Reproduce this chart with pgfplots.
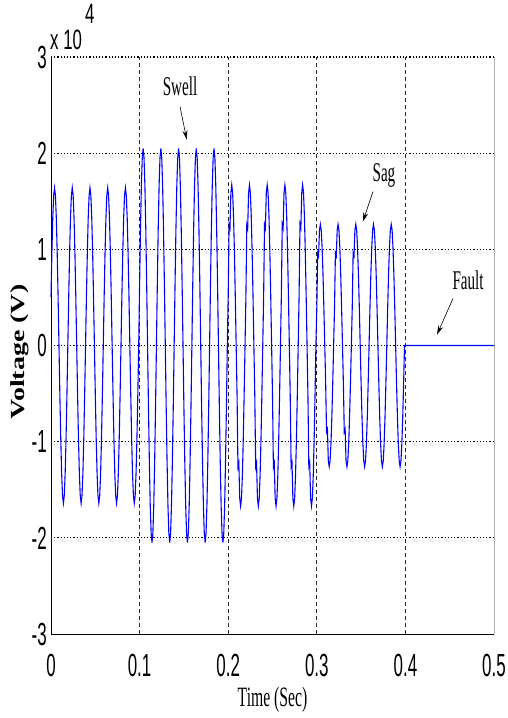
\documentclass[border=0pt]{standalone}
\usepackage{fontspec}
\setmainfont{Liberation Serif}
\newfontfamily\tickfont{Liberation Sans}[FakeStretch=0.53]
\newfontfamily\expfont{Liberation Sans}[FakeStretch=0.6]
\newfontfamily\lblfont{Liberation Serif}[FakeStretch=0.56]
\newfontfamily\ylblfont{Liberation Serif}[FakeStretch=1.4]
\usepackage{pgfplots}
\pgfplotsset{compat=1.18}
\usetikzlibrary{arrows.meta}
\begin{document}
\begin{tikzpicture}
\begin{axis}[
  set layers=standard,
  at={(0,0)}, anchor=south west,
  scale only axis, width=443bp, height=577bp,
  xmin=0, xmax=0.5, ymin=-30000, ymax=30000,
  xtick={0,0.1,0.2,0.3,0.4,0.5}, xticklabels={0,0.1,0.2,0.3,0.4,0.5},
  ytick={-30000,-20000,-10000,0,10000,20000,30000}, yticklabels={-3,-2,-1,0,1,2,3},
  scaled ticks=false,
  major tick length=0pt,
  axis line style={draw=none},
  clip=false,
  xticklabel style={font=\tickfont\fontsize{32bp}{32bp}\selectfont, anchor=north, inner sep=0pt, yshift=-20bp},
  yticklabel style={font=\tickfont\fontsize{32bp}{32bp}\selectfont, anchor=east, inner sep=0pt, xshift=-4bp},
]
\begin{pgfonlayer}{axis background}
\draw[black!85, line width=0.7bp, dash pattern=on 4bp off 3bp] (axis cs:0.1,-30000) -- (axis cs:0.1,30000);
\draw[black!85, line width=0.7bp, dash pattern=on 4bp off 3bp] (axis cs:0.2,-30000) -- (axis cs:0.2,30000);
\draw[black!85, line width=0.7bp, dash pattern=on 4bp off 3bp] (axis cs:0.3,-30000) -- (axis cs:0.3,30000);
\draw[black!85, line width=0.7bp, dash pattern=on 4bp off 3bp] (axis cs:0.4,-30000) -- (axis cs:0.4,30000);
\draw[black, line width=1.1bp, dash pattern=on 1.2bp off 2bp] (axis cs:0,-20000) -- (axis cs:0.5,-20000);
\draw[black, line width=1.1bp, dash pattern=on 1.2bp off 2bp] (axis cs:0,-10000) -- (axis cs:0.5,-10000);
\draw[black, line width=1.1bp, dash pattern=on 1.2bp off 2bp] (axis cs:0,0) -- (axis cs:0.5,0);
\draw[black, line width=1.1bp, dash pattern=on 1.2bp off 2bp] (axis cs:0,10000) -- (axis cs:0.5,10000);
\draw[black, line width=1.1bp, dash pattern=on 1.2bp off 2bp] (axis cs:0,20000) -- (axis cs:0.5,20000);
\draw[black, line width=1.5bp, dash pattern=on 1.2bp off 2bp] (axis cs:0,30000) -- (axis cs:0.5,30000);
\draw[black, line width=0.9bp] (axis cs:0,30000) -- (axis cs:0,-30000) -- (axis cs:0.5,-30000);
\draw[gray!60, line width=1bp] (axis cs:0.5,-30000) -- (axis cs:0.5,30000);
\end{pgfonlayer}

\addplot[blue, line width=1.1bp] coordinates {
(0.000,5068) (0.001,9640) (0.002,13268) (0.003,15598) (0.004,16400) (0.005,15598) (0.006,13268) (0.007,9640) (0.008,5068) (0.009,0)
(0.010,-5068) (0.011,-9640) (0.012,-13268) (0.013,-15598) (0.014,-16400) (0.015,-15598) (0.016,-13268) (0.017,-9640) (0.018,-5068) (0.019,0)
(0.020,5068) (0.021,9640) (0.022,13268) (0.023,15598) (0.024,16400) (0.025,15598) (0.026,13268) (0.027,9640) (0.028,5068) (0.029,0)
(0.030,-5068) (0.031,-9640) (0.032,-13268) (0.033,-15598) (0.034,-16400) (0.035,-15598) (0.036,-13268) (0.037,-9640) (0.038,-5068) (0.039,0)
(0.040,5068) (0.041,9640) (0.042,13268) (0.043,15598) (0.044,16400) (0.045,15598) (0.046,13268) (0.047,9640) (0.048,5068) (0.049,0)
(0.050,-5068) (0.051,-9640) (0.052,-13268) (0.053,-15598) (0.054,-16400) (0.055,-15598) (0.056,-13268) (0.057,-9640) (0.058,-5068) (0.059,0)
(0.060,5068) (0.061,9640) (0.062,13268) (0.063,15598) (0.064,16400) (0.065,15598) (0.066,13268) (0.067,9640) (0.068,5068) (0.069,0)
(0.070,-5068) (0.071,-9640) (0.072,-13268) (0.073,-15598) (0.074,-16400) (0.075,-15598) (0.076,-13268) (0.077,-9640) (0.078,-5068) (0.079,0)
(0.080,5068) (0.081,9640) (0.082,13268) (0.083,15598) (0.084,16400) (0.085,15598) (0.086,13268) (0.087,9640) (0.088,5068) (0.089,0)
(0.090,-5068) (0.091,-9640) (0.092,-13268) (0.093,-15598) (0.094,-16400) (0.095,-15598) (0.096,-13268) (0.097,-9640) (0.098,-5068) (0.099,0)
(0.100,6335) (0.101,12050) (0.102,16585) (0.103,19498) (0.104,20500) (0.105,19498) (0.106,16585) (0.107,12050) (0.108,6335) (0.109,0)
(0.110,-6335) (0.111,-12050) (0.112,-16585) (0.113,-19498) (0.114,-20500) (0.115,-19498) (0.116,-16585) (0.117,-12050) (0.118,-6335) (0.119,0)
(0.120,6335) (0.121,12050) (0.122,16585) (0.123,19498) (0.124,20500) (0.125,19498) (0.126,16585) (0.127,12050) (0.128,6335) (0.129,0)
(0.130,-6335) (0.131,-12050) (0.132,-16585) (0.133,-19498) (0.134,-20500) (0.135,-19498) (0.136,-16585) (0.137,-12050) (0.138,-6335) (0.139,0)
(0.140,6335) (0.141,12050) (0.142,16585) (0.143,19498) (0.144,20500) (0.145,19498) (0.146,16585) (0.147,12050) (0.148,6335) (0.149,0)
(0.150,-6335) (0.151,-12050) (0.152,-16585) (0.153,-19498) (0.154,-20500) (0.155,-19498) (0.156,-16585) (0.157,-12050) (0.158,-6335) (0.159,0)
(0.160,6335) (0.161,12050) (0.162,16585) (0.163,19498) (0.164,20500) (0.165,19498) (0.166,16585) (0.167,12050) (0.168,6335) (0.169,0)
(0.170,-6335) (0.171,-12050) (0.172,-16585) (0.173,-19498) (0.174,-20500) (0.175,-19498) (0.176,-16585) (0.177,-12050) (0.178,-6335) (0.179,0)
(0.180,6335) (0.181,12050) (0.182,16585) (0.183,19498) (0.184,20500) (0.185,19498) (0.186,16585) (0.187,12050) (0.188,6335) (0.189,0)
(0.190,-6335) (0.191,-12050) (0.192,-16585) (0.193,-19498) (0.194,-20500) (0.195,-19498) (0.196,-16585) (0.197,-12050) (0.198,-6335) (0.199,0)
(0.200,5160) (0.201,12600) (0.202,12200) (0.203,15883) (0.204,16700) (0.205,15883) (0.206,13510) (0.207,9816) (0.208,5160) (0.209,0)
(0.210,-5160) (0.211,-12600) (0.212,-12200) (0.213,-15883) (0.214,-16700) (0.215,-15883) (0.216,-13510) (0.217,-9816) (0.218,-5160) (0.219,0)
(0.220,5160) (0.221,12600) (0.222,12200) (0.223,15883) (0.224,16700) (0.225,15883) (0.226,13510) (0.227,9816) (0.228,5160) (0.229,0)
(0.230,-5160) (0.231,-12600) (0.232,-12200) (0.233,-15883) (0.234,-16700) (0.235,-15883) (0.236,-13510) (0.237,-9816) (0.238,-5160) (0.239,0)
(0.240,5160) (0.241,12600) (0.242,12200) (0.243,15883) (0.244,16700) (0.245,15883) (0.246,13510) (0.247,9816) (0.248,5160) (0.249,0)
(0.250,-5160) (0.251,-12600) (0.252,-12200) (0.253,-15883) (0.254,-16700) (0.255,-15883) (0.256,-13510) (0.257,-9816) (0.258,-5160) (0.259,0)
(0.260,5160) (0.261,12600) (0.262,12200) (0.263,15883) (0.264,16700) (0.265,15883) (0.266,13510) (0.267,9816) (0.268,5160) (0.269,0)
(0.270,-5160) (0.271,-12600) (0.272,-12200) (0.273,-15883) (0.274,-16700) (0.275,-15883) (0.276,-13510) (0.277,-9816) (0.278,-5160) (0.279,0)
(0.280,5160) (0.281,12600) (0.282,12200) (0.283,15883) (0.284,16700) (0.285,15883) (0.286,13510) (0.287,9816) (0.288,5160) (0.289,0)
(0.290,-5160) (0.291,-12600) (0.292,-12200) (0.293,-15883) (0.294,-16700) (0.295,-15883) (0.296,-13510) (0.297,-9816) (0.298,-5160) (0.299,0)
(0.300,3893) (0.301,9600) (0.302,9300) (0.303,11984) (0.304,12600) (0.305,11984) (0.306,10193) (0.307,7406) (0.308,3893) (0.309,0)
(0.310,-3893) (0.311,-9000) (0.312,-8700) (0.313,-11984) (0.314,-12600) (0.315,-11984) (0.316,-10193) (0.317,-7406) (0.318,-3893) (0.319,0)
(0.320,3893) (0.321,9600) (0.322,9300) (0.323,11984) (0.324,12600) (0.325,11984) (0.326,10193) (0.327,7406) (0.328,3893) (0.329,0)
(0.330,-3893) (0.331,-9000) (0.332,-8700) (0.333,-11984) (0.334,-12600) (0.335,-11984) (0.336,-10193) (0.337,-7406) (0.338,-3893) (0.339,0)
(0.340,3893) (0.341,9600) (0.342,9300) (0.343,11984) (0.344,12600) (0.345,11984) (0.346,10193) (0.347,7406) (0.348,3893) (0.349,0)
(0.350,-3893) (0.351,-7406) (0.352,-10193) (0.353,-11984) (0.354,-12600) (0.355,-11984) (0.356,-10193) (0.357,-7406) (0.358,-3893) (0.359,0)
(0.360,3893) (0.361,7406) (0.362,10193) (0.363,11984) (0.364,12600) (0.365,11984) (0.366,10193) (0.367,7406) (0.368,3893) (0.369,0)
(0.370,-3893) (0.371,-7406) (0.372,-10193) (0.373,-11984) (0.374,-12600) (0.375,-11984) (0.376,-10193) (0.377,-7406) (0.378,-3893) (0.379,0)
(0.380,3893) (0.381,7406) (0.382,10193) (0.383,11984) (0.384,12600) (0.385,11984) (0.386,10193) (0.387,7406) (0.388,3893) (0.389,0)
(0.390,-3893) (0.391,-7406) (0.392,-10193) (0.393,-11984) (0.394,-12600) (0.395,-11984) (0.396,-10193) (0.397,-7406) (0.398,-3893) (0.399,0)
(0.400,0) (0.500,0)
};

\node[font=\lblfont\fontsize{27bp}{27bp}\selectfont, inner sep=0pt] at (axis cs:0.1456,26930) {Swell};
\draw[-{Stealth[length=9bp,width=5bp]}, line width=0.6bp] (axis cs:0.1456,24850) -- (axis cs:0.1532,21420);
\node[font=\lblfont\fontsize{27bp}{27bp}\selectfont, inner sep=0pt] at (axis cs:0.3758,17680) {Sag};
\draw[-{Stealth[length=9bp,width=5bp]}, line width=0.6bp] (axis cs:0.3634,16010) -- (axis cs:0.3521,12890);
\node[font=\lblfont\fontsize{27bp}{27bp}\selectfont, inner sep=0pt] at (axis cs:0.4707,6760) {Fault};
\draw[-{Stealth[length=9bp,width=5bp]}, line width=0.6bp] (axis cs:0.4537,4890) -- (axis cs:0.4357,1140);
\end{axis}
\node[font=\lblfont\fontsize{28bp}{28bp}\selectfont] at (221.5bp,-66bp) {Time (Sec)};
\node[font=\ylblfont\bfseries\fontsize{20bp}{20bp}\selectfont, rotate=90] at (-31bp,282bp) {Voltage (V)};
\node[font=\expfont\fontsize{28bp}{28bp}\selectfont, anchor=base west, inner sep=0pt] at (-1bp,584bp) {x 10};
\node[font=\expfont\fontsize{28bp}{28bp}\selectfont, anchor=base west, inner sep=0pt] at (34bp,610bp) {4};
\pgfresetboundingbox
\path[use as bounding box] (-51bp,-84bp) rectangle (457bp,634bp);
\end{tikzpicture}
\end{document}
